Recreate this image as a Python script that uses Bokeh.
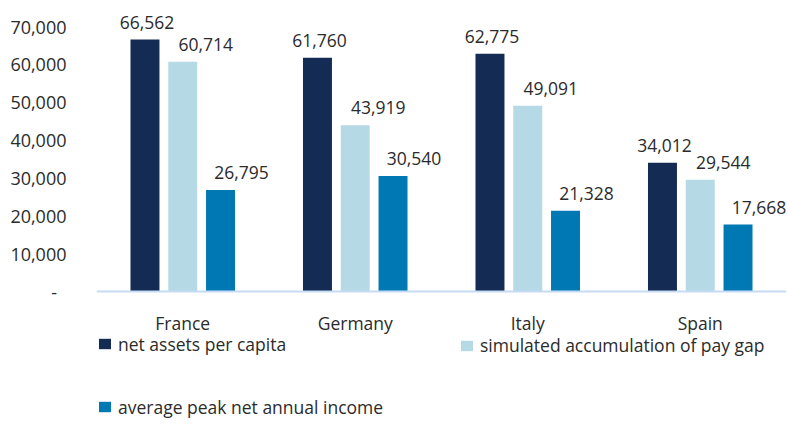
from bokeh.plotting import figure
from bokeh.models import ColumnDataSource, FactorRange, Range1d, FixedTicker, Legend, LegendItem, NumeralTickFormatter, Span
from bokeh.transform import dodge
from bokeh.core.properties import value
from bokeh.embed import file_html
from bokeh.resources import INLINE

countries = ["France", "Germany", "Italy", "Spain"]
net_assets = [66562, 61760, 62775, 34012]
pay_gap = [60714, 43919, 49091, 29544]
peak_income = [26795, 30540, 21328, 17668]
series_names = ["net assets per capita", "simulated accumulation of pay gap", "average peak net annual income"]
y_ticks = [0, 10000, 20000, 30000, 40000, 50000, 60000, 70000]

colors = ["#142b54", "#b5d9e5", "#0078b4"]
FONT = "Open Sans"
TXT = "#2b2b2b"
FS = "17.5px"

def fmt(v):
    return f"{v:,}"

src = ColumnDataSource(dict(
    x=countries,
    a=net_assets, b=pay_gap, c=peak_income,
    la=[fmt(v) for v in net_assets],
    lb=[fmt(v) for v in pay_gap],
    lc=[fmt(v) for v in peak_income],
))
cat_src = ColumnDataSource(dict(x=countries, y=[0] * len(countries)))

p = figure(width=786, height=423, x_range=FactorRange(*countries),
           y_range=Range1d(-34868, 74755), output_backend="svg", toolbar_location=None,
           min_border_left=96, min_border_right=0, min_border_top=8, min_border_bottom=0)
p.x_range.range_padding = 0
p.xgrid.grid_line_color = None
p.ygrid.grid_line_color = None
p.outline_line_color = None
p.xaxis.visible = False

offsets = [-0.219, 0.0, 0.219]
label_dx = [2, 23, 21]
renderers = []
for col, lab, off, dx, c in zip(["a", "b", "c"], ["la", "lb", "lc"], offsets, label_dx, colors):
    r = p.vbar(x=dodge("x", off, range=p.x_range), top=col, width=0.168, source=src,
               fill_color=c, line_color=None)
    renderers.append(r)
    p.text(x=dodge("x", off, range=p.x_range), y=col, text=lab, source=src,
           text_align="center", text_baseline="bottom", x_offset=dx, y_offset=-11,
           text_font=value(FONT), text_font_size=FS, text_color=TXT)

# category axis line and labels
p.add_layout(Span(location=0, dimension="width", line_color="#c5dcf4", line_width=2))
p.text(x="x", y="y", text="x", source=cat_src, text_align="center", text_baseline="middle",
       y_offset=31, text_font=value(FONT), text_font_size=FS, text_color=TXT)

p.yaxis.ticker = FixedTicker(ticks=y_ticks)
p.yaxis.formatter = NumeralTickFormatter(format="0,0")
p.yaxis.major_label_overrides = {0: "-\u00a0\u00a0"}
p.yaxis.axis_line_color = None
p.yaxis.major_tick_line_color = None
p.yaxis.minor_tick_line_color = None
p.yaxis.major_label_text_font = FONT
p.yaxis.major_label_text_font_size = "18px"
p.yaxis.major_label_text_color = TXT
p.yaxis.major_label_standoff = 24

def mk_legend(items, loc, spacing):
    return Legend(items=items, location=loc, orientation="vertical", spacing=spacing,
                  glyph_width=15, glyph_height=13, label_standoff=6, label_height=20,
                  padding=0, margin=0,
                  label_text_font=FONT, label_text_font_size=FS, label_text_color=TXT,
                  background_fill_alpha=0, border_line_color=None)

lg1 = mk_legend([LegendItem(label=series_names[0], renderers=[renderers[0]]),
                 LegendItem(label=series_names[2], renderers=[renderers[2]])], (1, 4.5), 39)
lg2 = mk_legend([LegendItem(label=series_names[1], renderers=[renderers[1]])], (363, 66), 0)
p.add_layout(lg1, "center")
p.add_layout(lg2, "center")

open("out.html", "w").write(file_html(p, INLINE))
